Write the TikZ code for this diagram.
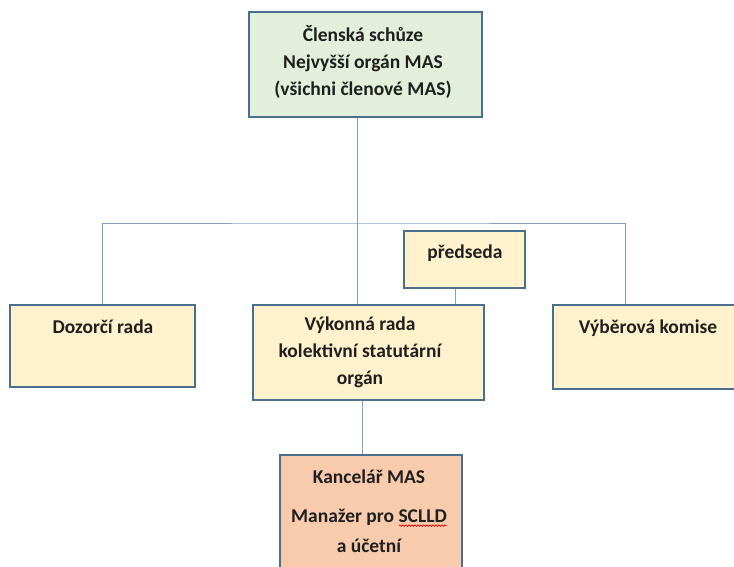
\documentclass[tikz,border=0pt]{standalone}
\usepackage{fontspec}
\setmainfont{Carlito}
\usetikzlibrary{calc,decorations.pathmorphing}
\definecolor{boxborder}{HTML}{4A6E8E}
\definecolor{linec}{HTML}{7FA0C0}
\definecolor{greenfill}{HTML}{E2EFDA}
\definecolor{yellowfill}{HTML}{FFF2CC}
\definecolor{peachfill}{HTML}{F8CBAD}
\begin{document}
\begin{tikzpicture}[x=1pt,y=-1pt,
  orgbox/.style={draw=boxborder,line width=1.6pt,rectangle,inner sep=0pt},
  txt/.style={font=\fontsize{19.5}{27}\selectfont\bfseries,align=center,inner sep=0pt,text=black!88},
  conn/.style={draw=linec,line width=1pt}]
\useasboundingbox (0,0) rectangle (734,566);
\clip (0,0) rectangle (734,566);
\fill[white] (0,0) rectangle (734,566);
% boxes
\node[orgbox,fill=greenfill,minimum width=233pt,minimum height=105pt] (top) at (365.5,64.5) {};
\node[orgbox,fill=yellowfill,minimum width=185pt,minimum height=82pt] (doz) at (102.5,346) {};
\node[orgbox,fill=yellowfill,minimum width=231pt,minimum height=95pt] (vyk) at (368.5,352.5) {};
\node[orgbox,fill=yellowfill,minimum width=192pt,minimum height=84pt] (vyb) at (649,347) {};
\node[orgbox,fill=yellowfill,minimum width=121pt,minimum height=57pt] (pred) at (464.5,259.5) {};
\node[orgbox,fill=peachfill,minimum width=182pt,minimum height=130pt] (kan) at (371,520) {};
% texts
\node[txt] (toptxt) at (363,62) {Členská schůze\\Nejvyšší orgán MAS\\(všichni členové MAS)};
\node[txt] (doztxt) at (103,327) {Dozorčí rada};
\node[txt] (vyktxt) at (360,352) {Výkonná rada\\kolektivní statutární\\orgán};
\node[txt] (vybtxt) at (648,328) {Výběrová komise};
\node[txt] (predtxt) at (465,253) {předseda};
\node[txt] (kan1) at (369,477) {Kancelář MAS};
\node[txt] (kan2) at (369,517) {Manažer pro SCLLD};
\node[txt] (kan3) at (369,546) {a účetní};
\draw[red!85!black,line width=0.7pt,decorate,decoration={snake,amplitude=0.8pt,segment length=3pt}]
  ([xshift=-48pt,yshift=-3.5pt]kan2.base east) -- ([yshift=-3.5pt]kan2.base east);
% connectors
\coordinate (junc) at ([xshift=-8.5pt]top.south |- 0,223);
\draw[conn] ([xshift=-8.5pt]top.south) -- ([xshift=-8.5pt]top.south |- vyk.north);
\draw[conn] (doz.north) |- (junc) -| ([xshift=-24pt]vyb.north);
\draw[conn] ([xshift=-9.5pt]pred.south) -- ([xshift=-9.5pt]pred.south |- vyk.north);
\draw[conn] ([xshift=-6.5pt]vyk.south) -- ([xshift=-6.5pt]vyk.south |- kan.north);
\end{tikzpicture}
\end{document}
